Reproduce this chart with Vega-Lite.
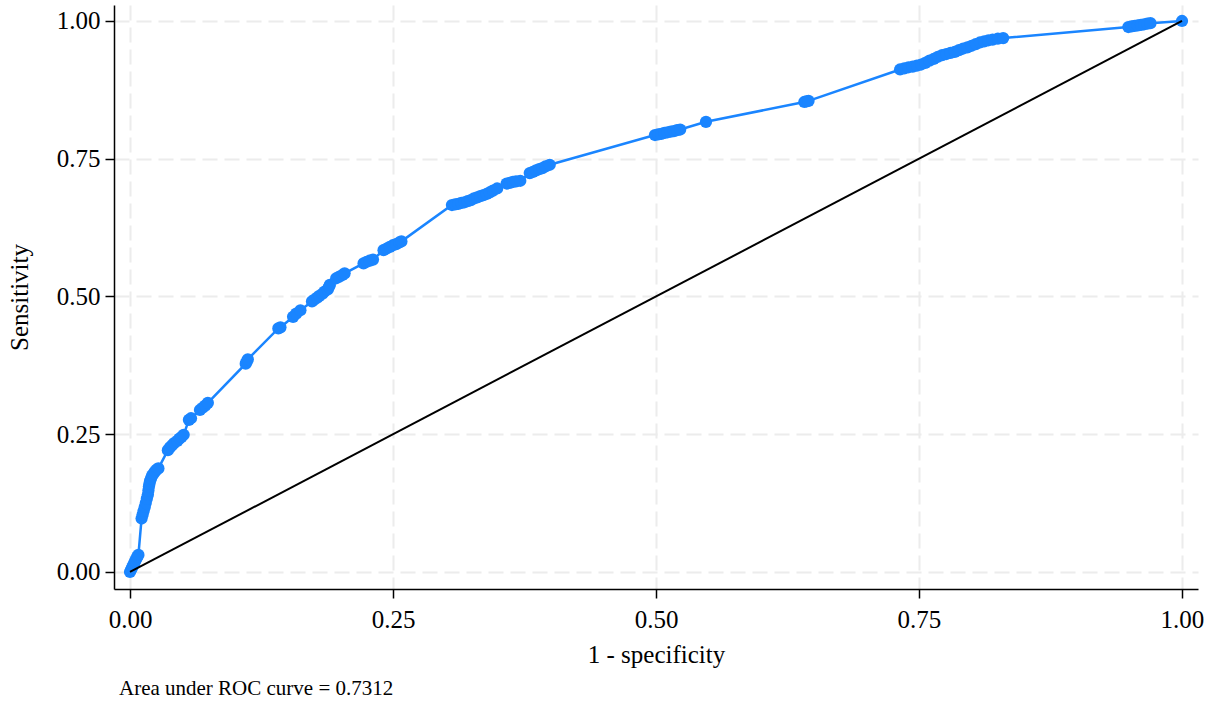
{
  "$schema": "https://vega.github.io/schema/vega-lite/v6.json",
  "width": 1084,
  "height": 584,
  "autosize": "none",
  "padding": {"left": 114, "top": 5, "right": 18, "bottom": 113},
  "background": "white",
  "config": {
    "view": {"stroke": null},
    "font": "Liberation Serif",
    "axis": {
      "labelFont": "Liberation Serif",
      "titleFont": "Liberation Serif",
      "labelFontSize": 25,
      "titleFontSize": 25,
      "titleFontWeight": "normal",
      "labelColor": "black",
      "titleColor": "black",
      "domainColor": "black",
      "domainWidth": 1.5,
      "tickColor": "black",
      "tickWidth": 1.5,
      "tickSize": 9,
      "gridColor": "#ececec",
      "gridWidth": 2,
      "gridDash": [15, 7]
    }
  },
  "title": {
    "text": "Area under ROC curve = 0.7312",
    "orient": "bottom",
    "anchor": "start",
    "frame": "group",
    "font": "Liberation Serif",
    "fontSize": 21,
    "fontWeight": "normal",
    "color": "black",
    "dx": 5,
    "offset": 11
  },
  "datasets": {
    "roc": [
      {"fpr": 0.0, "tpr": 0.0},
      {"fpr": 0.001, "tpr": 0.004},
      {"fpr": 0.002, "tpr": 0.008},
      {"fpr": 0.003, "tpr": 0.012},
      {"fpr": 0.004, "tpr": 0.016},
      {"fpr": 0.005, "tpr": 0.02},
      {"fpr": 0.006, "tpr": 0.024},
      {"fpr": 0.007, "tpr": 0.028},
      {"fpr": 0.008, "tpr": 0.031},
      {"fpr": 0.011, "tpr": 0.097},
      {"fpr": 0.012, "tpr": 0.104},
      {"fpr": 0.013, "tpr": 0.111},
      {"fpr": 0.014, "tpr": 0.118},
      {"fpr": 0.015, "tpr": 0.125},
      {"fpr": 0.016, "tpr": 0.133},
      {"fpr": 0.017, "tpr": 0.14},
      {"fpr": 0.0175, "tpr": 0.148},
      {"fpr": 0.018, "tpr": 0.155},
      {"fpr": 0.0185, "tpr": 0.16},
      {"fpr": 0.019, "tpr": 0.165},
      {"fpr": 0.02, "tpr": 0.17},
      {"fpr": 0.021, "tpr": 0.175},
      {"fpr": 0.0225, "tpr": 0.179},
      {"fpr": 0.024, "tpr": 0.183},
      {"fpr": 0.0255, "tpr": 0.186},
      {"fpr": 0.027, "tpr": 0.188},
      {"fpr": 0.036, "tpr": 0.221},
      {"fpr": 0.038, "tpr": 0.226},
      {"fpr": 0.04, "tpr": 0.23},
      {"fpr": 0.042, "tpr": 0.234},
      {"fpr": 0.045, "tpr": 0.238},
      {"fpr": 0.047, "tpr": 0.242},
      {"fpr": 0.049, "tpr": 0.245},
      {"fpr": 0.051, "tpr": 0.249},
      {"fpr": 0.056, "tpr": 0.276},
      {"fpr": 0.058, "tpr": 0.279},
      {"fpr": 0.0665, "tpr": 0.294},
      {"fpr": 0.069, "tpr": 0.298},
      {"fpr": 0.0715, "tpr": 0.302},
      {"fpr": 0.074, "tpr": 0.307},
      {"fpr": 0.11, "tpr": 0.378},
      {"fpr": 0.111, "tpr": 0.382},
      {"fpr": 0.112, "tpr": 0.386},
      {"fpr": 0.141, "tpr": 0.442},
      {"fpr": 0.143, "tpr": 0.444},
      {"fpr": 0.155, "tpr": 0.463},
      {"fpr": 0.158, "tpr": 0.469},
      {"fpr": 0.162, "tpr": 0.475},
      {"fpr": 0.173, "tpr": 0.491},
      {"fpr": 0.175, "tpr": 0.494},
      {"fpr": 0.178, "tpr": 0.498},
      {"fpr": 0.18, "tpr": 0.501},
      {"fpr": 0.183, "tpr": 0.505},
      {"fpr": 0.185, "tpr": 0.509},
      {"fpr": 0.188, "tpr": 0.513},
      {"fpr": 0.189, "tpr": 0.517},
      {"fpr": 0.19, "tpr": 0.521},
      {"fpr": 0.196, "tpr": 0.533},
      {"fpr": 0.199, "tpr": 0.536},
      {"fpr": 0.202, "tpr": 0.539},
      {"fpr": 0.204, "tpr": 0.542},
      {"fpr": 0.222, "tpr": 0.56},
      {"fpr": 0.225, "tpr": 0.563},
      {"fpr": 0.228, "tpr": 0.565},
      {"fpr": 0.231, "tpr": 0.567},
      {"fpr": 0.241, "tpr": 0.584},
      {"fpr": 0.244, "tpr": 0.587},
      {"fpr": 0.247, "tpr": 0.59},
      {"fpr": 0.25, "tpr": 0.593},
      {"fpr": 0.253, "tpr": 0.595},
      {"fpr": 0.256, "tpr": 0.598},
      {"fpr": 0.258, "tpr": 0.6},
      {"fpr": 0.306, "tpr": 0.666},
      {"fpr": 0.309, "tpr": 0.667},
      {"fpr": 0.312, "tpr": 0.668},
      {"fpr": 0.315, "tpr": 0.67},
      {"fpr": 0.318, "tpr": 0.671},
      {"fpr": 0.321, "tpr": 0.673},
      {"fpr": 0.324, "tpr": 0.675},
      {"fpr": 0.327, "tpr": 0.678},
      {"fpr": 0.33, "tpr": 0.68},
      {"fpr": 0.333, "tpr": 0.682},
      {"fpr": 0.336, "tpr": 0.684},
      {"fpr": 0.339, "tpr": 0.686},
      {"fpr": 0.342, "tpr": 0.689},
      {"fpr": 0.345, "tpr": 0.692},
      {"fpr": 0.349, "tpr": 0.696},
      {"fpr": 0.358, "tpr": 0.705},
      {"fpr": 0.361, "tpr": 0.706},
      {"fpr": 0.364, "tpr": 0.708},
      {"fpr": 0.367, "tpr": 0.709},
      {"fpr": 0.371, "tpr": 0.71},
      {"fpr": 0.38, "tpr": 0.724},
      {"fpr": 0.383, "tpr": 0.726},
      {"fpr": 0.386, "tpr": 0.729},
      {"fpr": 0.389, "tpr": 0.731},
      {"fpr": 0.392, "tpr": 0.733},
      {"fpr": 0.395, "tpr": 0.736},
      {"fpr": 0.399, "tpr": 0.739},
      {"fpr": 0.499, "tpr": 0.793},
      {"fpr": 0.502, "tpr": 0.794},
      {"fpr": 0.505, "tpr": 0.795},
      {"fpr": 0.508, "tpr": 0.797},
      {"fpr": 0.511, "tpr": 0.798},
      {"fpr": 0.514, "tpr": 0.799},
      {"fpr": 0.517, "tpr": 0.8},
      {"fpr": 0.52, "tpr": 0.802},
      {"fpr": 0.523, "tpr": 0.803},
      {"fpr": 0.5475, "tpr": 0.817},
      {"fpr": 0.641, "tpr": 0.853},
      {"fpr": 0.643, "tpr": 0.854},
      {"fpr": 0.645, "tpr": 0.855},
      {"fpr": 0.732, "tpr": 0.912},
      {"fpr": 0.736, "tpr": 0.914},
      {"fpr": 0.74, "tpr": 0.916},
      {"fpr": 0.744, "tpr": 0.917},
      {"fpr": 0.748, "tpr": 0.919},
      {"fpr": 0.752, "tpr": 0.921},
      {"fpr": 0.756, "tpr": 0.924},
      {"fpr": 0.76, "tpr": 0.928},
      {"fpr": 0.764, "tpr": 0.931},
      {"fpr": 0.768, "tpr": 0.935},
      {"fpr": 0.772, "tpr": 0.938},
      {"fpr": 0.776, "tpr": 0.94},
      {"fpr": 0.78, "tpr": 0.942},
      {"fpr": 0.784, "tpr": 0.944},
      {"fpr": 0.788, "tpr": 0.947},
      {"fpr": 0.792, "tpr": 0.95},
      {"fpr": 0.796, "tpr": 0.952},
      {"fpr": 0.8, "tpr": 0.955},
      {"fpr": 0.804, "tpr": 0.958},
      {"fpr": 0.808, "tpr": 0.961},
      {"fpr": 0.812, "tpr": 0.963},
      {"fpr": 0.816, "tpr": 0.965},
      {"fpr": 0.82, "tpr": 0.966},
      {"fpr": 0.825, "tpr": 0.968},
      {"fpr": 0.83, "tpr": 0.969},
      {"fpr": 0.949, "tpr": 0.989},
      {"fpr": 0.952, "tpr": 0.99},
      {"fpr": 0.955, "tpr": 0.991},
      {"fpr": 0.958, "tpr": 0.992},
      {"fpr": 0.961, "tpr": 0.993},
      {"fpr": 0.964, "tpr": 0.994},
      {"fpr": 0.967, "tpr": 0.995},
      {"fpr": 0.97, "tpr": 0.996},
      {"fpr": 1.0, "tpr": 1.0}
    ],
    "diag": [
      {"fpr": 0, "tpr": 0},
      {"fpr": 1, "tpr": 1}
    ]
  },
  "encoding": {
    "x": {
      "field": "fpr",
      "type": "quantitative",
      "scale": {"domain": [-0.01521, 1.01521], "nice": false, "zero": false},
      "axis": {
        "title": "1 - specificity",
        "values": [0, 0.25, 0.5, 0.75, 1],
        "format": ".2f",
        "labelPadding": 9,
        "titlePadding": 10
      }
    },
    "y": {
      "field": "tpr",
      "type": "quantitative",
      "scale": {"domain": [-0.0309, 1.029], "nice": false, "zero": false},
      "axis": {
        "title": "Sensitivity",
        "values": [0, 0.25, 0.5, 0.75, 1],
        "format": ".2f",
        "labelPadding": 5,
        "titlePadding": 24
      }
    }
  },
  "layer": [
    {
      "data": {"name": "roc"},
      "mark": {"type": "line", "color": "#1a85ff", "strokeWidth": 2.5},
      "encoding": {"order": {"field": "fpr", "type": "quantitative"}}
    },
    {
      "data": {"name": "roc"},
      "mark": {"type": "point", "filled": true, "shape": "circle", "size": 150, "color": "#1a85ff", "opacity": 1}
    },
    {
      "data": {"name": "diag"},
      "mark": {"type": "line", "color": "black", "strokeWidth": 2}
    }
  ]
}
